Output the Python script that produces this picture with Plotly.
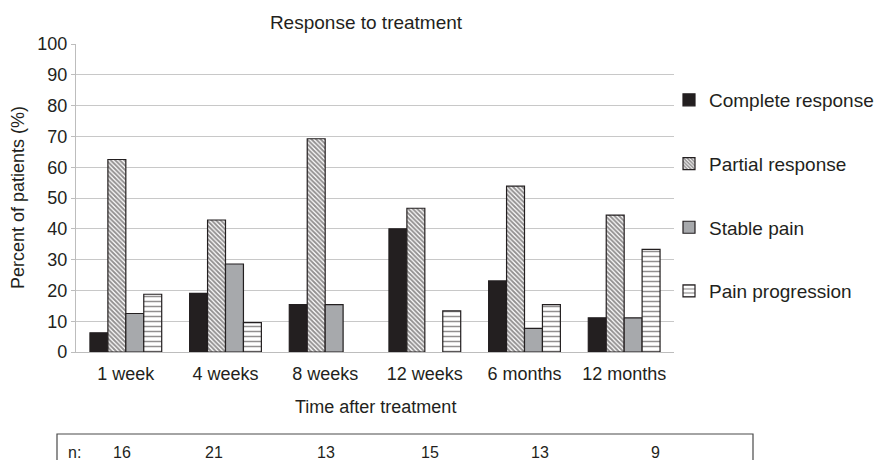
import plotly.graph_objects as go

# Time points and number of patients assessed at each
timepoints = ["1 week", "4 weeks", "8 weeks", "12 weeks", "6 months", "12 months"]
n_patients = [16, 21, 13, 15, 13, 9]

# Percent of patients in each response category
complete_response = [6.25, 19.05, 15.38, 40.0, 23.08, 11.11]
partial_response = [62.5, 42.86, 69.23, 46.67, 53.85, 44.44]
stable_pain = [12.5, 28.57, 15.38, 0.0, 7.69, 11.11]
pain_progression = [18.75, 9.52, 0.0, 13.33, 15.38, 33.33]

y_ticks = list(range(0, 101, 10))

INK = "#231f20"
FONT = "Liberation Sans, Arial, Helvetica, sans-serif"

W, H = 874, 460
ML, MR, MT, MB = 76, 200, 44, 108
PW, PH = W - ML - MR, H - MT - MB


def px_x(px):
    return (px - ML) / PW


def px_y(py):
    return (H - MB - py) / PH


def outline(vals):
    # no outline on empty bars so that a zero value leaves no stub
    return dict(color=INK, width=[0 if v == 0 else 1.2 for v in vals])


series = [
    ("Complete response", complete_response,
     dict(color=INK)),
    ("Partial response", partial_response,
     dict(color="white",
          pattern=dict(shape="\\", fgcolor=INK, bgcolor="white",
                       size=3.2, solidity=0.6))),
    ("Stable pain", stable_pain,
     dict(color="#a7a9ac")),
    ("Pain progression", pain_progression,
     dict(color="white",
          pattern=dict(shape="-", fgcolor=INK, bgcolor="white",
                       size=5, solidity=0.3))),
]

fig = go.Figure()
for i, (name, vals, marker) in enumerate(series):
    marker = dict(marker, line=outline(vals))
    fig.add_trace(go.Bar(x=timepoints, y=vals, name=name, marker=marker,
                         legendgroup=f"g{i}"))

fig.update_layout(
    width=W, height=H,
    margin=dict(l=ML, r=MR, t=MT, b=MB, pad=0, autoexpand=False),
    paper_bgcolor="white", plot_bgcolor="white",
    font=dict(family=FONT, size=18, color=INK),
    barmode="group", bargap=0.28, bargroupgap=0,
    showlegend=True,
    legend=dict(x=px_x(669), y=px_y(81), xanchor="left", yanchor="top",
                traceorder="grouped", tracegroupgap=36,
                font=dict(size=19, color=INK), bgcolor="rgba(0,0,0,0)"),
    title=dict(text="Response to treatment", x=366 / W, xanchor="center",
               y=1 - 22 / H, yanchor="middle", xref="container",
               yref="container", font=dict(size=19, color=INK)),
)

fig.update_xaxes(showgrid=False, showline=True, linecolor="#bdbdbd",
                 linewidth=1.2, ticks="", ticklabelstandoff=5,
                 tickfont=dict(size=18, color=INK), fixedrange=True)
fig.update_yaxes(range=[0, 100], tickvals=y_ticks, showgrid=True,
                 gridcolor="#c8c8c8", gridwidth=1.2, showline=True,
                 linecolor="#bdbdbd", linewidth=1.2, ticks="outside",
                 ticklen=4, tickcolor="#bdbdbd", zeroline=False,
                 tickfont=dict(size=18, color=INK), fixedrange=True)

# Axis titles
fig.add_annotation(text="Time after treatment", xref="paper", yref="paper",
                   x=px_x(375), y=px_y(407), showarrow=False,
                   xanchor="center", yanchor="middle",
                   font=dict(size=18, color=INK))
fig.add_annotation(text="Percent of patients (%)", xref="paper", yref="paper",
                   x=px_x(18), y=0.5, showarrow=False, textangle=-90,
                   xanchor="center", yanchor="middle",
                   font=dict(size=18, color=INK))

# Sample-size box below the axis
fig.add_shape(type="rect", xref="paper", yref="paper",
              x0=px_x(57), x1=px_x(753), y0=px_y(434), y1=px_y(475),
              line=dict(color="#4a4a4a", width=1.2), fillcolor="white")
fig.add_annotation(text="n:", xref="paper", yref="paper", x=px_x(66),
                   y=px_y(452), showarrow=False, xanchor="left",
                   yanchor="middle", font=dict(size=16, color=INK))
n_cols = [122, 214, 326, 430, 540, 655]
for cx, n in zip(n_cols, n_patients):
    fig.add_annotation(text=str(n), xref="paper", yref="paper", x=px_x(cx),
                       y=px_y(452), showarrow=False, xanchor="center",
                       yanchor="middle", font=dict(size=16, color=INK))

fig.write_html("out.html")
